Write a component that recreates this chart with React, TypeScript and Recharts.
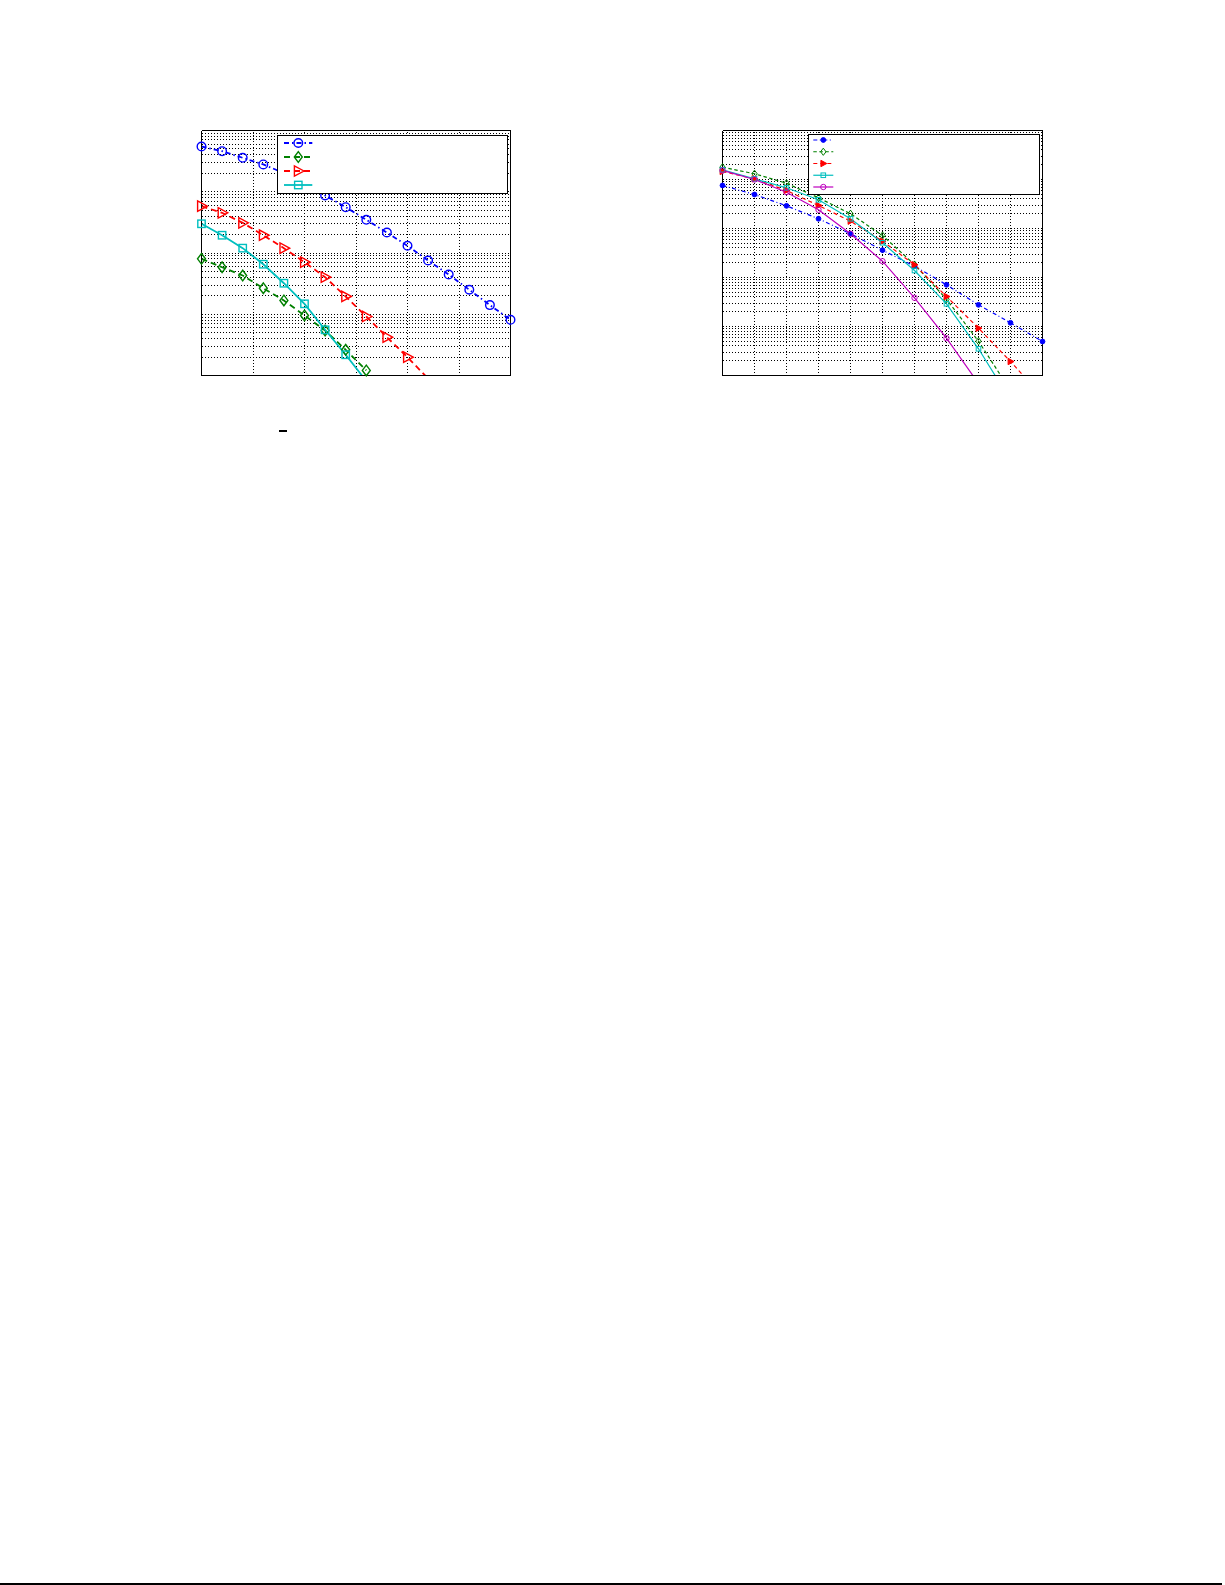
import React from 'react';
import { ComposedChart, Line, Scatter, XAxis, YAxis, ReferenceLine, Legend } from 'recharts';

// ---------- left panel data ----------
const leftX = [0, 2, 4, 6, 8, 10, 12, 14, 16, 18, 20, 22, 24, 26, 28, 30];
const leftXTicks = [0, 5, 10, 15, 20, 25, 30];
const leftCircle = [0.548, 0.459, 0.358, 0.279, 0.202, 0.136, 0.0868, 0.056, 0.0348, 0.0216, 0.0131, 0.00755, 0.00446, 0.00251, 0.00141, 0.000811];
const leftDiamond = [0.00804, 0.00586, 0.00429, 0.00266, 0.00168, 0.000955, 0.000543, 0.000263, 0.000121];
const leftTriangle = [0.0581, 0.0453, 0.0311, 0.0195, 0.012, 0.00708, 0.00403, 0.00195, 0.000919, 0.000422, 0.000199, 0.0000891];
const leftSquare = [0.03, 0.0195, 0.012, 0.00656, 0.00321, 0.00148, 0.000557, 0.000218, 0.000081];
const leftDecades = [1e-4, 1e-3, 1e-2, 1e-1, 1];

// ---------- right panel data ----------
const rightX = [0, 1, 2, 3, 4, 5, 6, 7, 8, 9, 10];
const rightXTicks = [0, 1, 2, 3, 4, 5, 6, 7, 8, 9, 10];
const rightDot = [0.0755, 0.0494, 0.029, 0.0158, 0.00779, 0.00361, 0.0017, 0.00071, 0.000277, 0.000119, 0.0000494];
const rightDiamond = [0.178, 0.131, 0.084, 0.0423, 0.02, 0.0072, 0.00184, 0.00036, 0.0000501, 0.00000494];
const rightTriangle = [0.146, 0.103, 0.0597, 0.0295, 0.0141, 0.00551, 0.00182, 0.000409, 0.0000923, 0.0000193, 0.0000037];
const rightSquare = [0.158, 0.103, 0.0677, 0.0385, 0.0158, 0.00511, 0.00139, 0.00029, 0.0000351, 0.00000313];
const rightCircle = [0.153, 0.1, 0.0551, 0.0241, 0.0078, 0.00215, 0.000385, 0.0000577, 0.00000687];
const rightDecades = [1e-5, 1e-4, 1e-3, 1e-2, 1e-1, 1];

const mantissas = [1, 2, 3, 4, 5, 6, 7, 8, 9];

// ---------- styles ----------
const BLUE = '#0000ff';
const GREEN = '#008000';
const RED = '#ff0000';
const CYAN = '#00bfbf';
const MAGENTA = '#bf00bf';

type Kind = 'circle' | 'diamond' | 'triangle' | 'square';

interface SeriesDef {
  key: string;
  values: number[];
  color: string;
  dash?: string;
  kind: Kind;
  filled: boolean;
  size: number;
}

const leftSeries: SeriesDef[] = [
  { key: 'circle', values: leftCircle, color: BLUE, dash: '5 3 1.5 3', kind: 'circle', filled: false, size: 4.3 },
  { key: 'diamond', values: leftDiamond, color: GREEN, dash: '6 4', kind: 'diamond', filled: false, size: 5.3 },
  { key: 'triangle', values: leftTriangle, color: RED, dash: '6 4', kind: 'triangle', filled: false, size: 5.2 },
  { key: 'square', values: leftSquare, color: CYAN, kind: 'square', filled: false, size: 3.7 },
];

const rightSeries: SeriesDef[] = [
  { key: 'dot', values: rightDot, color: BLUE, dash: '4 2.5 1 2.5', kind: 'circle', filled: true, size: 2.4 },
  { key: 'diamond', values: rightDiamond, color: GREEN, dash: '3.5 2.5', kind: 'diamond', filled: false, size: 3.6 },
  { key: 'triangle', values: rightTriangle, color: RED, dash: '4 3', kind: 'triangle', filled: true, size: 3.2 },
  { key: 'square', values: rightSquare, color: CYAN, kind: 'square', filled: false, size: 2.3 },
  { key: 'circle', values: rightCircle, color: MAGENTA, kind: 'circle', filled: false, size: 2.7 },
];

function MarkerShape({ kind, cx, cy, size, color, filled, sw }: any) {
  if (cx == null || cy == null || Number.isNaN(cx) || Number.isNaN(cy)) return <g />;
  const fill = filled ? color : 'none';
  const common = { fill, stroke: color, strokeWidth: sw };
  if (kind === 'circle') return <circle cx={cx} cy={cy} r={size} {...common} />;
  if (kind === 'diamond') {
    const w = size * 0.75;
    const h = size;
    return <polygon points={`${cx},${cy - h} ${cx + w},${cy} ${cx},${cy + h} ${cx - w},${cy}`} {...common} />;
  }
  if (kind === 'triangle') {
    const s = size;
    return <polygon points={`${cx + 1.1 * s},${cy} ${cx - 0.75 * s},${cy - s} ${cx - 0.75 * s},${cy + s}`} {...common} />;
  }
  return <rect x={cx - size} y={cy - size} width={2 * size} height={2 * size} {...common} />;
}

function LegendBox({ series, width, height, rowTop, rowGap, x1, x2, mx, lw, msw }: any) {
  return (
    <svg width={width} height={height} style={{ display: 'block' }}>
      <rect x={0.5} y={0.5} width={width - 1} height={height - 1} fill="#fff" stroke="#000" strokeWidth={1} />
      {series.map((s: SeriesDef, i: number) => {
        const y = rowTop + i * rowGap;
        return (
          <g key={s.key + i}>
            <line x1={x1} x2={x2} y1={y} y2={y} stroke={s.color} strokeWidth={lw} strokeDasharray={s.dash} />
            <MarkerShape kind={s.kind} cx={mx} cy={y} size={s.size} color={s.color} filled={s.filled} sw={msw} />
          </g>
        );
      })}
    </svg>
  );
}

function buildTable(xs: number[], series: SeriesDef[]) {
  return xs.map((x, i) => {
    const row: any = { x };
    series.forEach((s) => {
      if (i < s.values.length) row[s.key] = s.values[i];
    });
    return row;
  });
}

const TINY = 0.01;

function Panel({ left, top, plotW, plotH, xs, xDomain, xTicks, decades, series, lw, msw, legend }: any) {
  const m = 10.5;
  const yDomain = [decades[0], decades[decades.length - 1]];
  const yMajor = decades;
  const yGrid: number[] = [];
  decades.slice(0, -1).forEach((d: number) => mantissas.forEach((k) => yGrid.push(k * d)));
  yGrid.push(decades[decades.length - 1]);
  const innerY = yGrid.slice(1, -1);
  const innerX = xTicks.slice(1, -1);
  const table = buildTable(xs, series);
  const axisStroke = { stroke: '#000', strokeWidth: 1, shapeRendering: 'crispEdges' };
  return (
    <div style={{ position: 'absolute', left, top }}>
      <ComposedChart width={plotW + 2 * m} height={plotH + 2 * m} margin={{ top: m, right: m, bottom: m, left: m }} data={table}>
        <XAxis xAxisId={0} dataKey="x" type="number" domain={xDomain} ticks={xTicks} interval={0} allowDataOverflow height={TINY} tick={false} tickSize={4} mirror tickLine={axisStroke} axisLine={axisStroke} />
        <XAxis xAxisId="top" orientation="top" dataKey="x" type="number" domain={xDomain} ticks={xTicks} interval={0} height={TINY} tick={false} tickSize={4} mirror tickLine={axisStroke} axisLine={axisStroke} />
        <YAxis yAxisId={0} type="number" scale="log" domain={yDomain} allowDataOverflow ticks={yGrid} interval={0} width={TINY} tick={false} tickSize={2} mirror tickLine={axisStroke} axisLine={axisStroke} />
        <YAxis yAxisId="maj" dataKey="y" type="number" scale="log" domain={yDomain} ticks={yMajor} interval={0} width={TINY} tick={false} tickSize={4} mirror tickLine={axisStroke} axisLine={false} />
        <YAxis yAxisId="right" orientation="right" type="number" scale="log" domain={yDomain} allowDataOverflow ticks={yMajor} interval={0} width={TINY} tick={false} tickSize={4} mirror tickLine={axisStroke} axisLine={axisStroke} />
        {innerY.map((v) => (
          <ReferenceLine key={'gy' + v} xAxisId={0} yAxisId={0} y={v} stroke="#000" strokeWidth={1} strokeDasharray="1 2" shapeRendering="crispEdges" />
        ))}
        {innerX.map((v: number) => (
          <ReferenceLine key={'gx' + v} xAxisId={0} yAxisId={0} x={v} stroke="#000" strokeWidth={1} strokeDasharray="1 2" shapeRendering="crispEdges" />
        ))}
        {series.map((s: SeriesDef) => {
          const pts = s.values
            .map((v, i) => ({ x: xs[i], y: v }))
            .filter((p) => p.y >= yDomain[0] && p.y <= yDomain[1]);
          return (
            <React.Fragment key={s.key}>
              <Line
                xAxisId={0}
                yAxisId={0}
                type="linear"
                dataKey={s.key}
                stroke={s.color}
                strokeWidth={lw}
                strokeDasharray={s.dash}
                dot={false}
                activeDot={false}
                isAnimationActive={false}
              />
              <Scatter
                xAxisId="top"
                yAxisId="maj"
                data={pts}
                isAnimationActive={false}
                shape={(p: any) => (
                  <MarkerShape kind={s.kind} cx={p.cx} cy={p.cy} size={s.size} color={s.color} filled={s.filled} sw={msw} />
                )}
              />
            </React.Fragment>
          );
        })}
        <Legend
          verticalAlign="middle"
          align="center"
          layout="horizontal"
          wrapperStyle={{ left: legend.left, top: legend.top, width: legend.width, height: legend.height }}
          content={() => (
            <LegendBox
              series={series}
              width={legend.width}
              height={legend.height}
              rowTop={legend.rowTop}
              rowGap={legend.rowGap}
              x1={legend.x1}
              x2={legend.x2}
              mx={legend.mx}
              lw={lw}
              msw={msw}
            />
          )}
        />
      </ComposedChart>
    </div>
  );
}

export default function App() {
  return (
    <div style={{ position: 'absolute', left: 0, top: 0, width: 1225, height: 1585, background: '#fff' }}>
      <Panel
        left={191}
        top={120}
        plotW={309}
        plotH={245}
        xs={leftX}
        xDomain={[0, 30]}
        xTicks={leftXTicks}
        decades={leftDecades}
        series={leftSeries}
        lw={1.8}
        msw={1.4}
        legend={{ left: 86, top: 15, width: 231, height: 59, rowTop: 8, rowGap: 14, x1: 7, x2: 35.3, mx: 21.3 }}
      />
      <Panel
        left={712}
        top={120}
        plotW={320}
        plotH={245}
        xs={rightX}
        xDomain={[0, 10]}
        xTicks={rightXTicks}
        decades={rightDecades}
        series={rightSeries}
        lw={1.2}
        msw={1}
        legend={{ left: 96, top: 14, width: 232, height: 61, rowTop: 6, rowGap: 11.75, x1: 5.3, x2: 25.3, mx: 15.3 }}
      />
      <div style={{ position: 'absolute', left: 279, top: 430, width: 8, height: 2, background: '#000' }} />
      <div style={{ position: 'absolute', left: 0, top: 1583, width: 1222, height: 2, background: '#000' }} />
    </div>
  );
}
